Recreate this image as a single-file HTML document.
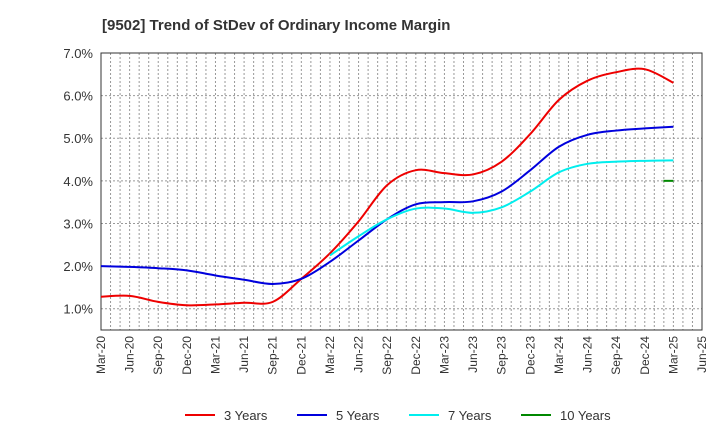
<!DOCTYPE html>
<html><head><meta charset="utf-8"><style>
body{margin:0;background:#fff;font-family:"Liberation Sans",sans-serif}
svg{display:block}
</style></head><body>
<svg id="c" width="720" height="440">
<text x="102" y="30" font-size="15" font-weight="bold" fill="#333">[9502]  Trend of StDev of Ordinary Income Margin</text>
<g id="grid"></g><g id="axes"></g><g id="series"></g><g id="legend"></g>
</svg>
<script>
const categories=["Mar-20","Jun-20","Sep-20","Dec-20","Mar-21","Jun-21","Sep-21","Dec-21","Mar-22","Jun-22","Sep-22","Dec-22","Mar-23","Jun-23","Sep-23","Dec-23","Mar-24","Jun-24","Sep-24","Dec-24","Mar-25","Jun-25"];
const yTicks=[1,2,3,4,5,6,7];
const s3=[1.28,1.3,1.16,1.08,1.1,1.14,1.16,1.7,2.3,3.05,3.9,4.25,4.18,4.15,4.45,5.1,5.9,6.35,6.55,6.62,6.3];
const s5=[2.0,1.98,1.95,1.9,1.78,1.68,1.58,1.7,2.1,2.6,3.1,3.45,3.5,3.52,3.75,4.25,4.8,5.08,5.18,5.23,5.27];
const s7=[null,null,null,null,null,null,null,null,2.25,2.7,3.1,3.35,3.35,3.25,3.38,3.75,4.2,4.4,4.45,4.47,4.48];
const s10=[null,null,null,null,null,null,null,null,null,null,null,null,null,null,null,null,null,null,null,null,4.0];
const NS="http://www.w3.org/2000/svg";
const L=101,R=702,T=53,B=330,YMIN=0.5,YMAX=7.0;
const xs=i=>L+i*(R-L)/(categories.length-1);
const ys=v=>B-(v-YMIN)/(YMAX-YMIN)*(B-T);
function mk(p,t,a){const e=document.createElementNS(NS,t);for(const k in a)e.setAttribute(k,a[k]);document.getElementById(p).appendChild(e);return e;}
// monthly vertical grid
for(let m=1;m<(categories.length-1)*3;m++){const x=L+m*(R-L)/((categories.length-1)*3);
const g=mk('grid','line',{x1:x,x2:x,y1:T,y2:B,stroke:'#999','stroke-dasharray':'2,2','stroke-width':1});

}
yTicks.forEach(v=>{const y=ys(v);
const g=mk('grid','line',{x1:L,x2:R,y1:y,y2:y,stroke:'#999','stroke-dasharray':'2,2'});


const t=mk('axes','text',{x:L-8,y:y+5,'text-anchor':'end','font-size':13,fill:'#333'});t.textContent=v.toFixed(1)+'%';

});
const fr=mk('axes','rect',{x:L,y:T,width:R-L,height:B-T,fill:'none',stroke:'#333','stroke-width':1});


categories.forEach((c,i)=>{const x=xs(i);
const t=mk('axes','text',{x:x+4,y:B+6,'text-anchor':'end','font-size':12,fill:'#333',transform:`rotate(-90 ${x+4} ${B+6})`});t.textContent=c;

});
function path(arr){const p=[];arr.forEach((v,i)=>{if(v!=null)p.push([xs(i),ys(v)]);});
if(p.length==1)return `M${p[0][0]-10},${p[0][1]}L${p[0][0]},${p[0][1]}`;
let d=`M${p[0][0]},${p[0][1]}`;
for(let i=0;i<p.length-1;i++){const p0=p[i-1]||p[i],p1=p[i],p2=p[i+1],p3=p[i+2]||p2;
d+=`C${p1[0]+(p2[0]-p0[0])/6},${p1[1]+(p2[1]-p0[1])/6} ${p2[0]-(p3[0]-p1[0])/6},${p2[1]-(p3[1]-p1[1])/6} ${p2[0]},${p2[1]}`;}
return d;}
const series=[[s3,'#e00','3 Years','line-3-years'],[s5,'#00d','5 Years','line-5-years'],[s7,'#0ee','7 Years','line-7-years'],[s10,'#080','10 Years','line-10-years']];
series.forEach((s,k)=>{const e=mk('series','path',{d:path(s[0]),fill:'none',stroke:s[1],'stroke-width':2});


const lx=185+k*112;
const l=mk('legend','line',{x1:lx,x2:lx+30,y1:415,y2:415,stroke:s[1],'stroke-width':2});


const t=mk('legend','text',{x:lx+39,y:420,'font-size':13,fill:'#333'});t.textContent=s[2];

});
</script>
</body></html>
